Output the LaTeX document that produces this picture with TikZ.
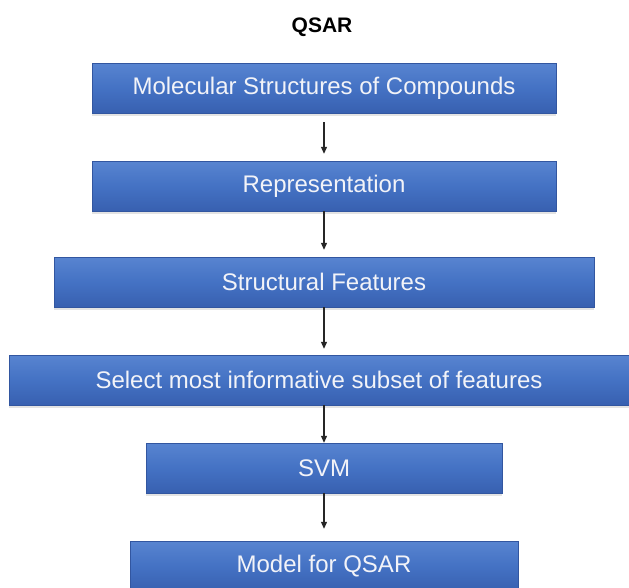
\documentclass[tikz,border=0pt]{standalone}
\usepackage{fontspec}
\setmainfont{Liberation Sans}
\usetikzlibrary{arrows.meta,shadows}
\definecolor{boxtop}{RGB}{88,132,208}
\definecolor{boxmid}{RGB}{68,114,196}
\definecolor{boxbot}{RGB}{56,96,176}
\definecolor{boxline}{RGB}{50,86,160}
\definecolor{txt}{RGB}{242,243,248}
\begin{document}
\begin{tikzpicture}[x=1pt,y=-1pt,
  flowbox/.style={rectangle, inner sep=0pt, minimum height=50pt,
    top color=boxtop, bottom color=boxbot, middle color=boxmid,
    draw=boxline, line width=0.4pt, text=txt,
    font=\fontsize{24}{28}\selectfont,
    drop shadow={opacity=0.22, shadow xshift=0pt, shadow yshift=-3pt}},
  flowarrow/.style={-{Triangle[length=7pt,width=6pt]}, line width=1.1pt, black!85}]
\useasboundingbox (0,0) rectangle (629,587);
\fill[white] (0,0) rectangle (629,587);
\node[font=\bfseries\fontsize{21}{24}\selectfont] (title) at (322,27) {QSAR};
\node[flowbox, minimum width=464pt] (b1) at (324,88) {Molecular Structures of Compounds};
\node[flowbox, minimum width=464pt] (b2) at (324,186) {Representation};
\node[flowbox, minimum width=540pt] (b3) at (324,282) {Structural Features};
\node[flowbox, minimum width=620pt] (b4) at (319,380) {Select most informative subset of features};
\node[flowbox, minimum width=356pt] (b5) at (324,468) {SVM};
\node[flowbox, minimum width=388pt] (b6) at (324,566) {Model for QSAR};
\draw[flowarrow] ([yshift=-9pt]b1.south) -- ([yshift=7pt]b2.north);
\draw[flowarrow] (b2.south) -- ([yshift=7pt]b3.north);
\draw[flowarrow] (b3.south) -- ([yshift=6pt]b3.south |- b4.north);
\draw[flowarrow] (b5.north |- b4.south) -- (b5.north);
\draw[flowarrow] (b5.south) -- ([yshift=12pt]b6.north);
\end{tikzpicture}
\end{document}
